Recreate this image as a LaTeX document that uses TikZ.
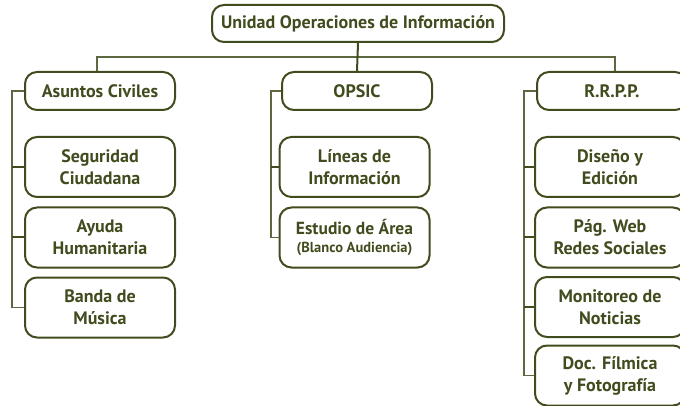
\documentclass[tikz,border=0pt]{standalone}
\usepackage{fontspec}
\setmainfont{PT Sans}
\definecolor{olv}{RGB}{64,76,30}
\begin{document}
\begin{tikzpicture}[x=1pt,y=-1pt,
  box/.style={draw=olv,line width=2pt,rounded corners=12pt,minimum width=150pt,
    align=center,text=olv,font=\bfseries\fontsize{18}{22}\selectfont,inner sep=0pt},
  one/.style={box,minimum height=38pt},
  two/.style={box,minimum height=60pt},
  thin/.style={draw=olv!85,line width=1.1pt},
  thick/.style={draw=olv,line width=2pt}]
\useasboundingbox (0,0) rectangle (680,406);
\begin{scope}
\clip (0,0) rectangle (680,406);
\node[box,minimum width=292pt,minimum height=37pt] (top) at (358,23.5) {Unidad Operaciones de Información};
\node[one] (ac) at (100,91) {Asuntos Civiles};
\node[one] (op) at (357,91) {OPSIC};
\node[one] (rp) at (612,91) {R.R.P.P.};
\node[two] (sc) at (100,167) {Seguridad\\Ciudadana};
\node[two] (ah) at (100,237.5) {Ayuda\\Humanitaria};
\node[two] (bm) at (100,307.5) {Banda de\\Música};
\node[two] (li) at (354.5,167) {Líneas de\\Información};
\node[two,font=\bfseries\fontsize{17.5}{18}\selectfont] (ea) at (354.5,237.5) {Estudio de Área\\{\fontsize{14.5}{18}\selectfont (Blanco Audiencia)}};
\node[two] (de) at (610,167) {Diseño y\\Edición};
\node[two] (pw) at (610,237.5) {Pág. Web\\Redes Sociales};
\node[two] (mn) at (610,307) {Monitoreo de\\Noticias};
\node[two] (df) at (610,375.5) {Doc. Fílmica\\y Fotografía};
\end{scope}
% top level
\draw[thin] (ac.north) ++(-3,0) |- (top.south |- 0,57) -| ([xshift=3pt]rp.north);
\draw[thick] (top.south) -- (op.north);
% left branch
\draw[thin] (ac.west) -- ++(-12,0) |- (bm.west);
\draw[thick] (sc.west) -- ++(-12,0);
\draw[thick] (ah.west) -- ++(-12,0);
% middle branch
\draw[thin] (op.west) -- ++(-10,0) |- (ea.west);
\draw[thick] (li.west) -- ++(-7.5,0);
% right branch
\draw[thin] (rp.west) -- ++(-12,0) |- (df.west);
\draw[thick] (de.west) -- ++(-10,0);
\draw[thick] (pw.west) -- ++(-10,0);
\draw[thick] (mn.west) -- ++(-10,0);
\end{tikzpicture}
\end{document}
